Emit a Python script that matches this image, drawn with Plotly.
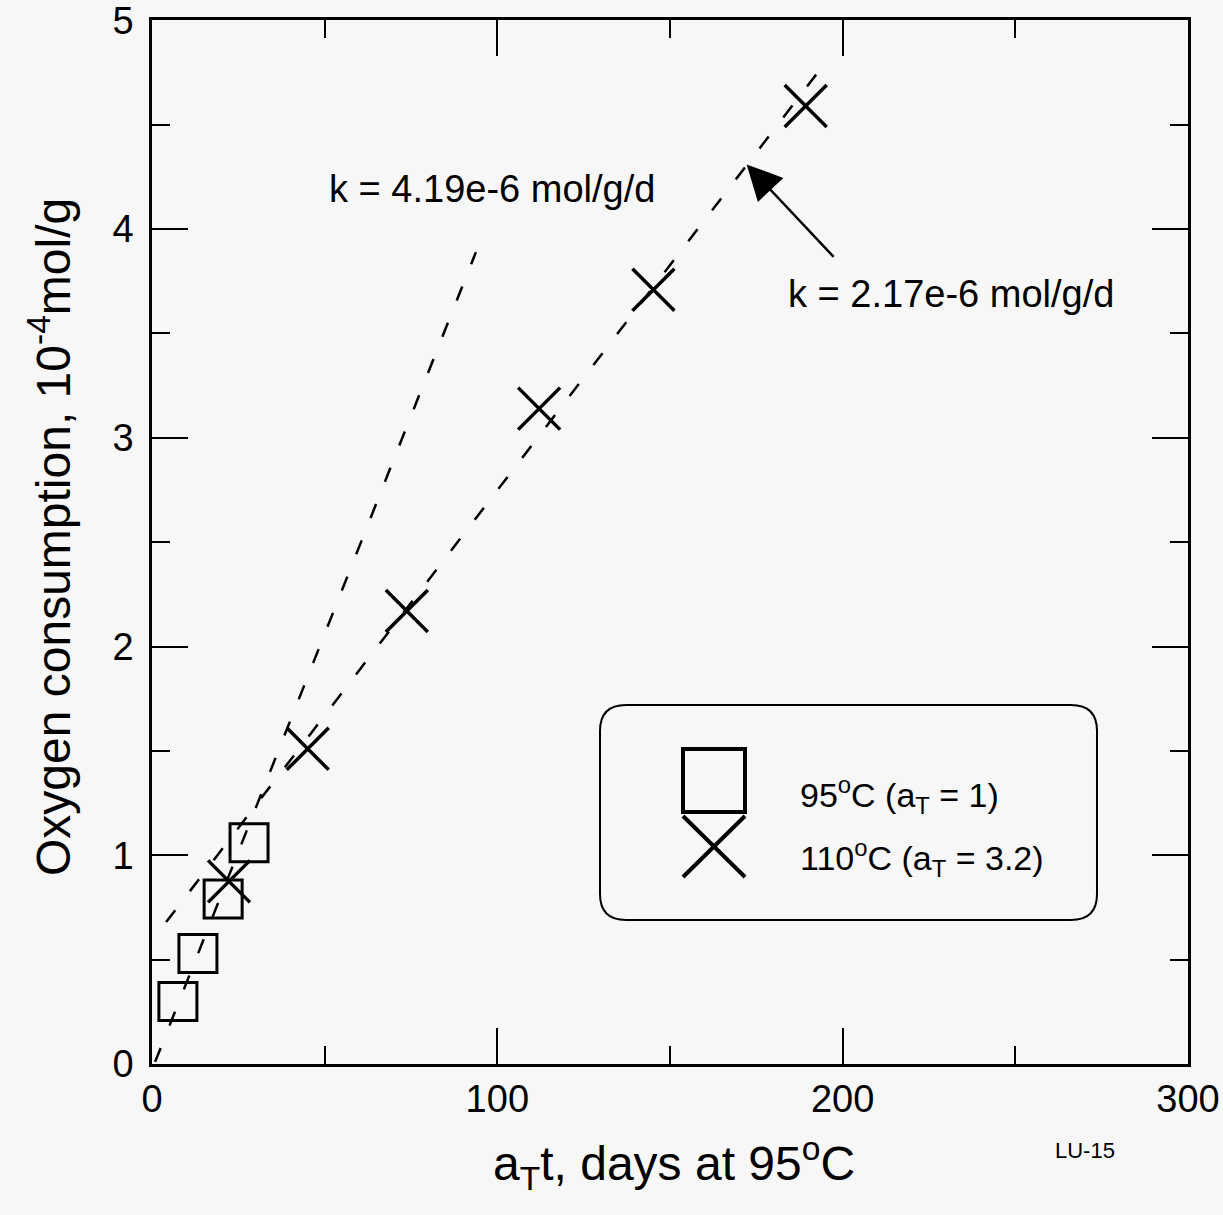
import plotly.graph_objects as go

# ---------------- data ----------------
sq_x = [7.5, 13.3, 20.6, 28.1]          # 95 C  (a_T = 1)
sq_y = [0.30, 0.53, 0.79, 1.06]
cross_x = [22.3, 45.1, 73.8, 112.1, 145.2, 189.3]   # 110 C (a_T = 3.2)
cross_y = [0.875, 1.51, 2.17, 3.14, 3.71, 4.59]
fit95_x = [0.9, 93.8]                   # k = 4.19e-6 mol/g/d
fit95_y = [0.01, 3.89]
fit110_x = [4.1, 193.7]                 # k = 2.17e-6 mol/g/d
fit110_y = [0.68, 4.77]
x_ticks = [0, 100, 200, 300]
y_ticks = [0, 1, 2, 3, 4, 5]

# ---------------- geometry ----------------
W, H = 1223, 1215
L, R, T, B = 152, 1188, 20, 1064
FONT = "Liberation Sans, Arial, Helvetica, sans-serif"
BG = "#f7f7f7"


def px(x):
    return (x - L) / (R - L)


def py(y):
    return (B - y) / (B - T)


fig = go.Figure()

dash = "15px,24px"
fig.add_trace(go.Scatter(x=fit95_x, y=fit95_y, mode="lines",
                         line=dict(color="black", width=2.5, dash=dash),
                         showlegend=False, hoverinfo="skip"))
fig.add_trace(go.Scatter(x=fit110_x, y=fit110_y, mode="lines",
                         line=dict(color="black", width=2.5, dash=dash),
                         showlegend=False, hoverinfo="skip"))
fig.add_trace(go.Scatter(x=sq_x, y=sq_y, mode="markers", name="95C",
                         marker=dict(symbol="square-open", size=38, color="black",
                                     line=dict(width=3, color="black")),
                         showlegend=False))
fig.add_trace(go.Scatter(x=cross_x, y=cross_y, mode="markers", name="110C",
                         marker=dict(symbol="x-thin-open", size=42, color="black",
                                     line=dict(width=3.5, color="black")),
                         showlegend=False))

axis_common = dict(
    showline=True, linecolor="black", linewidth=2.5, mirror="ticks",
    ticks="inside", ticklen=36, tickwidth=2, tickcolor="black",
    showgrid=False, zeroline=False, ticklabeloverflow="allow",
    automargin=False,
    tickfont=dict(family=FONT, size=38, color="black"),
)

fig.update_xaxes(range=[0, 300.01], tickvals=x_ticks,
                 minor=dict(dtick=50, tick0=0, ticks="inside", ticklen=18,
                            tickwidth=2, tickcolor="black", showgrid=False),
                 ticklabelstandoff=0, **axis_common)
fig.update_yaxes(range=[0, 5.002], tickvals=y_ticks,
                 minor=dict(dtick=0.5, tick0=0, ticks="inside", ticklen=18,
                            tickwidth=2, tickcolor="black", showgrid=False),
                 ticklabelstandoff=8, **axis_common)

annotations = []
# axis titles
annotations.append(dict(
    x=px(50), y=py(537), xref="paper", yref="paper", showarrow=False,
    text="Oxygen consumption, 10<sup>-4</sup>mol/g", textangle=-90,
    font=dict(family=FONT, size=48, color="black"),
    xanchor="center", yanchor="middle"))
annotations.append(dict(
    x=px(674), y=py(1163), xref="paper", yref="paper", showarrow=False,
    text="a<sub>T</sub>t, days at 95<sup>o</sup>C",
    font=dict(family=FONT, size=48, color="black"),
    xanchor="center", yanchor="middle"))
annotations.append(dict(
    x=px(1085), y=py(1150), xref="paper", yref="paper", showarrow=False,
    text="LU-15", font=dict(family=FONT, size=22, color="black"),
    xanchor="center", yanchor="middle"))

# slope labels
annotations.append(dict(
    x=98.6, y=4.19, xref="x", yref="y", showarrow=False,
    text="k = 4.19e-6 mol/g/d",
    font=dict(family=FONT, size=38, color="black"),
    xanchor="center", yanchor="middle"))
annotations.append(dict(
    x=231.4, y=3.69, xref="x", yref="y", showarrow=False,
    text="k = 2.17e-6 mol/g/d",
    font=dict(family=FONT, size=38, color="black"),
    xanchor="center", yanchor="middle"))
annotations.append(dict(
    x=172.2, y=4.31, xref="x", yref="y", ax=197.8, ay=3.86,
    axref="x", ayref="y", text="", showarrow=True,
    arrowhead=2, arrowsize=2.8, arrowwidth=2.5, arrowcolor="black"))

# legend texts
annotations.append(dict(
    x=px(798), y=py(795), xref="paper", yref="paper", showarrow=False,
    text="95<sup>o</sup>C (a<sub>T</sub> = 1)",
    font=dict(family=FONT, size=34, color="black"),
    xanchor="left", yanchor="middle"))
annotations.append(dict(
    x=px(798), y=py(858), xref="paper", yref="paper", showarrow=False,
    text="110<sup>o</sup>C (a<sub>T</sub> = 3.2)",
    font=dict(family=FONT, size=34, color="black"),
    xanchor="left", yanchor="middle"))

# legend box (rounded rectangle) and symbols
x0, x1, y0, y1, r = 600, 1097, 705, 920, 26
pts = [
    ("M", (x0 + r, y0)), ("L", (x1 - r, y0)), ("Q", (x1, y0), (x1, y0 + r)),
    ("L", (x1, y1 - r)), ("Q", (x1, y1), (x1 - r, y1)),
    ("L", (x0 + r, y1)), ("Q", (x0, y1), (x0, y1 - r)),
    ("L", (x0, y0 + r)), ("Q", (x0, y0), (x0 + r, y0)),
]
path = ""
for item in pts:
    cmd = item[0]
    coords = " ".join(f"{px(a):.5f},{py(b):.5f}" for a, b in item[1:])
    path += f"{cmd} {coords} "
path += "Z"

shapes = [
    dict(type="path", path=path, xref="paper", yref="paper",
         line=dict(color="black", width=2), fillcolor="rgba(0,0,0,0)"),
    dict(type="rect", x0=px(683), x1=px(745), y0=py(749), y1=py(812),
         xref="paper", yref="paper", line=dict(color="black", width=4)),
    dict(type="line", x0=px(683), x1=px(745), y0=py(816), y1=py(877),
         xref="paper", yref="paper", line=dict(color="black", width=4)),
    dict(type="line", x0=px(683), x1=px(745), y0=py(877), y1=py(816),
         xref="paper", yref="paper", line=dict(color="black", width=4)),
]

fig.update_layout(
    width=W, height=H,
    margin=dict(l=L, r=W - R, t=T, b=H - B, pad=0, autoexpand=False),
    paper_bgcolor=BG, plot_bgcolor=BG,
    showlegend=False,
    annotations=annotations, shapes=shapes,
    font=dict(family=FONT, color="black"),
)

fig.write_html("out.html")
